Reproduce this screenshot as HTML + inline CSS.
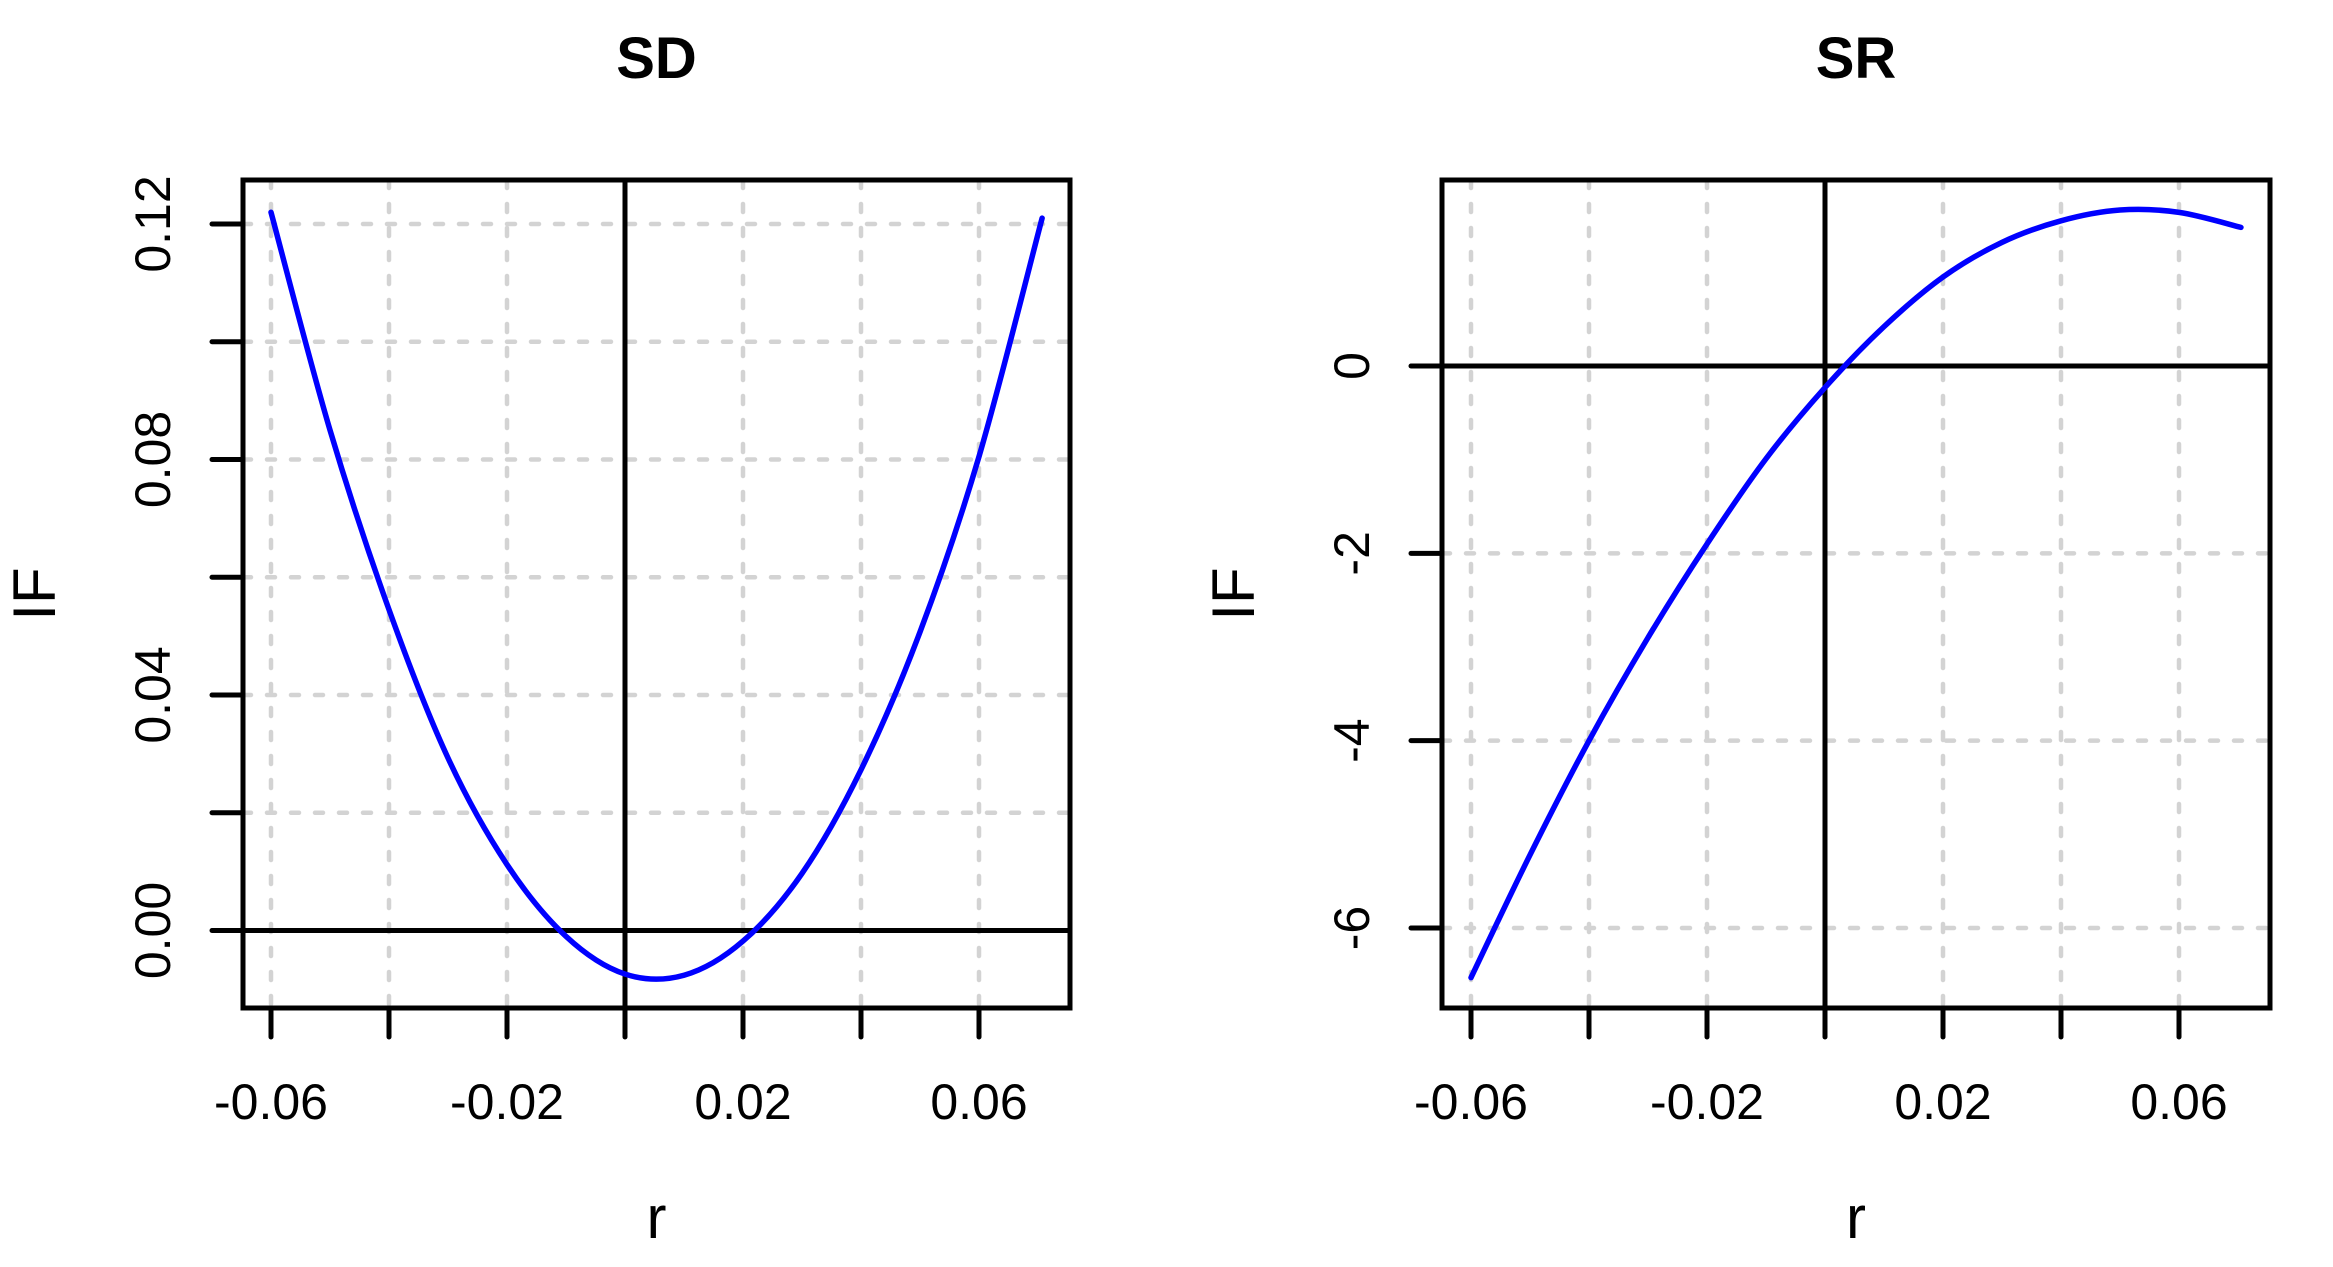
<!DOCTYPE html>
<html><head><meta charset="utf-8"><style>
html,body{margin:0;padding:0;background:#fff;}
svg{display:block;font-family:"Liberation Sans",Arial,sans-serif;}
</style></head><body>
<svg id="chart" width="2333" height="1267" viewBox="0 0 2333 1267"></svg>
<script>
const sdR = [-0.06,-0.05,-0.04,-0.03,-0.02,-0.01,0,0.01,0.02,0.03,0.04,0.05,0.06,0.0707];
const sdIF = [0.122,0.085,0.0545,0.0293,0.0112,-0.001,-0.0074,-0.0076,-0.0018,0.0097,0.0273,0.0507,0.0805,0.121];
const srR = [-0.06,-0.05,-0.04,-0.03,-0.02,-0.01,0,0.01,0.02,0.03,0.04,0.05,0.06,0.0705];
const srIF = [-6.53,-5.22,-4.0,-2.9,-1.9,-0.99,-0.23,0.42,0.95,1.32,1.55,1.665,1.64,1.48];
const xTicks = [-0.06,-0.04,-0.02,0,0.02,0.04,0.06];
const xTickLabels = ["-0.06","","-0.02","","0.02","","0.06"];
const sdYTicks = [0,0.02,0.04,0.06,0.08,0.10,0.12];
const sdYTickLabels = ["0.00","","0.04","","0.08","","0.12"];
const srYTicks = [-6,-4,-2,0];
const srYTickLabels = ["-6","-4","-2","0"];

const NS="http://www.w3.org/2000/svg";
const svg=document.getElementById('chart');
function mk(tag,attrs,parent){const e=document.createElementNS(NS,tag);for(const k in attrs)e.setAttribute(k,attrs[k]);(parent||svg).appendChild(e);return e;}

function panel(opt){
  const g=mk('g',{});
  
  
  const L=opt.left,R=opt.right,T=180,B=1008;
  const xs=v=>opt.x0+(v-(-0.06))*(opt.x1-opt.x0)/0.12;
  const ys=v=>opt.yA+(v-opt.vA)*(opt.yB-opt.yA)/(opt.vB-opt.vA);
  xTicks.forEach(v=>{
    const l=mk('line',{x1:xs(v),x2:xs(v),y1:T,y2:B,stroke:'#d3d3d3','stroke-width':4.5,'stroke-dasharray':'8 16','stroke-linecap':'round'},g);
    
    
  });
  opt.gridY.forEach(v=>{
    const l=mk('line',{x1:L,x2:R,y1:ys(v),y2:ys(v),stroke:'#d3d3d3','stroke-width':4.5,'stroke-dasharray':'8 16','stroke-linecap':'round'},g);
    
    
  });
  const zv=mk('line',{x1:xs(0),x2:xs(0),y1:T,y2:B,stroke:'#000','stroke-width':5},g);
  
  
  const zh=mk('line',{x1:L-31,x2:R,y1:ys(0),y2:ys(0),stroke:'#000','stroke-width':5},g);
  
  
  const pts=opt.xs.map((v,i)=>[xs(v),ys(opt.ys[i])]);
  let d='M'+pts[0][0]+','+pts[0][1];
  for(let i=0;i<pts.length-1;i++){
    const p0=pts[Math.max(0,i-1)],p1=pts[i],p2=pts[i+1],p3=pts[Math.min(pts.length-1,i+2)];
    const c1=[p1[0]+(p2[0]-p0[0])/6,p1[1]+(p2[1]-p0[1])/6];
    const c2=[p2[0]-(p3[0]-p1[0])/6,p2[1]-(p3[1]-p1[1])/6];
    d+=' C'+c1+' '+c2+' '+p2;
  }
  const c=mk('path',{d:d,fill:'none',stroke:'#0000ff','stroke-width':5.5,'stroke-linecap':'round'},g);
  
  
  const bx=mk('rect',{x:L,y:T,width:R-L,height:B-T,fill:'none',stroke:'#000','stroke-width':5},g);
  
  
  xTicks.forEach((v,i)=>{
    const t=mk('line',{x1:xs(v),x2:xs(v),y1:B,y2:1037,stroke:'#000','stroke-width':5,'stroke-linecap':'round'},g);
    
    
    if(xTickLabels[i]){
      const tx=mk('text',{x:xs(v),y:1119,'font-size':50,'text-anchor':'middle'},g);
      tx.textContent=xTickLabels[i];
      
      
    }
  });
  opt.yTicks.forEach((v,i)=>{
    const t=mk('line',{x1:L-31,x2:L,y1:ys(v),y2:ys(v),stroke:'#000','stroke-width':5,'stroke-linecap':'round'},g);
    
    
    if(opt.yLabels[i]){
      const cx=L-91, cy=ys(v);
      const tx=mk('text',{x:cx,y:cy,'font-size':50,'text-anchor':'middle',transform:'rotate(-90 '+cx+' '+cy+')',dy:'18'},g);
      tx.textContent=opt.yLabels[i];
      
      
    }
  });
  const ti=mk('text',{x:(L+R)/2,y:78,'font-size':58,'font-weight':'bold','text-anchor':'middle'},g);
  ti.textContent=opt.title;
  
  
  const xl=mk('text',{x:(L+R)/2,y:1238,'font-size':60,'text-anchor':'middle'},g);
  xl.textContent='r';
  
  
  const yx=L-209,yy=(T+B)/2;
  const yl=mk('text',{x:yx,y:yy,'font-size':60,'text-anchor':'middle',dy:'21',transform:'rotate(-90 '+yx+' '+yy+')'},g);
  yl.textContent='IF';
  
  
}
panel({name:'sd-panel',title:'SD',left:243,right:1070,x0:271,x1:979,yA:930.5,vA:0,yB:224,vB:0.12,
  gridY:[0.02,0.04,0.06,0.08,0.10,0.12],yTicks:sdYTicks,yLabels:sdYTickLabels,xs:sdR,ys:sdIF});
panel({name:'sr-panel',title:'SR',left:1442,right:2270,x0:1471,x1:2179,yA:366,vA:0,yB:928,vB:-6,
  gridY:[-6,-4,-2],yTicks:srYTicks,yLabels:srYTickLabels,xs:srR,ys:srIF});
</script>
</body></html>
